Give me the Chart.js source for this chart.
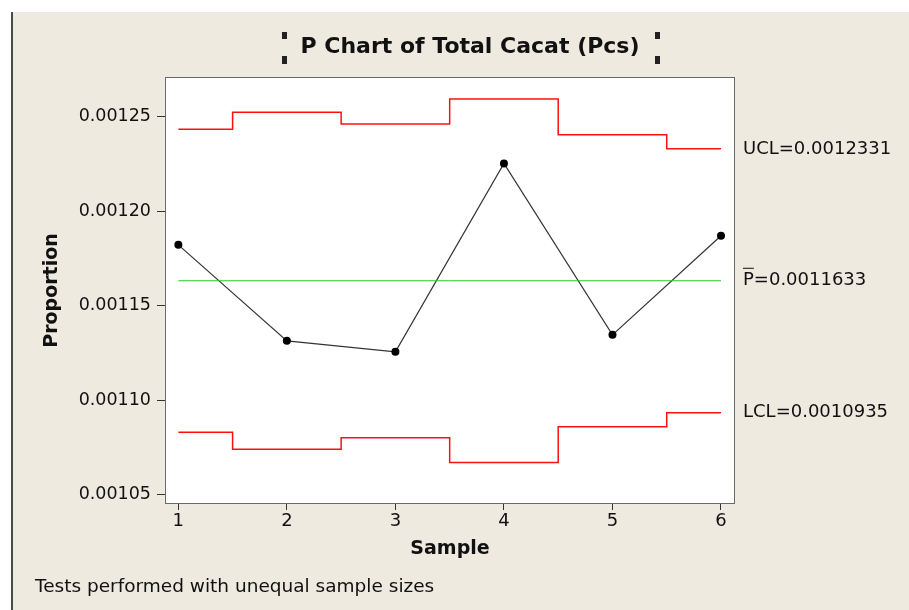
<!DOCTYPE html>
<html>
<head>
<meta charset="utf-8">
<script src="https://cdn.jsdelivr.net/npm/chart.js@4.4.1/dist/chart.umd.min.js"></script>
<style>
html, body { margin: 0; padding: 0; background: #fff; }
</style>
</head>
<body>
<canvas id="pChart" width="909" height="610"></canvas>
<script>
// sample numbers and observed proportions
const samples = [1, 2, 3, 4, 5, 6];
const proportions = [0.0011823, 0.0011315, 0.0011257, 0.0012254, 0.0011347, 0.0011871];
// control limits per sample (unequal sample sizes)
const ucl = [0.0012435, 0.0012525, 0.0012463, 0.0012595, 0.0012405, 0.0012331];
const lcl = [0.0010831, 0.0010741, 0.0010803, 0.0010671, 0.0010861, 0.0010935];
const pBar = 0.0011633;
const yTicks = [0.00105, 0.00110, 0.00115, 0.00120, 0.00125];
const xTicks = [1, 2, 3, 4, 5, 6];

const bg = '#eeeae0';
const font = '"DejaVu Sans", Verdana, sans-serif';

const toPoints = vals => samples.map((s, i) => ({ x: s, y: vals[i] }));

const minitabFrame = {
    id: 'minitabFrame',
    beforeDraw(chart) {
        const ctx = chart.ctx;
        const a = chart.chartArea;
        ctx.save();
        ctx.fillStyle = '#fff';
        ctx.fillRect(0, 0, chart.width, chart.height);
        ctx.fillStyle = bg;
        ctx.fillRect(13, 12, chart.width, chart.height);
        ctx.fillStyle = '#4a4a4a';
        ctx.fillRect(11, 12, 2, chart.height);
        ctx.fillStyle = '#fff';
        ctx.fillRect(a.left, a.top, a.right - a.left, a.bottom - a.top);
        ctx.restore();
    },
    afterDraw(chart) {
        const ctx = chart.ctx;
        const a = chart.chartArea;
        const y = chart.scales.y;
        ctx.save();
        ctx.strokeStyle = '#6a6a6a';
        ctx.lineWidth = 1;
        ctx.strokeRect(a.left + 0.5, a.top + 0.5, a.right - a.left - 1, a.bottom - a.top - 1);

        // title + selection handles
        ctx.fillStyle = '#111';
        ctx.font = 'bold 22px ' + font;
        ctx.textAlign = 'center';
        ctx.textBaseline = 'middle';
        ctx.fillText('P Chart of Total Cacat (Pcs)', 470, 47);
        ctx.fillStyle = '#222';
        [282, 655].forEach(hx => {
            ctx.fillRect(hx, 32, 5, 7);
            ctx.fillRect(hx, 56, 5, 8);
        });

        // limit labels
        ctx.fillStyle = '#111';
        ctx.font = '18px ' + font;
        ctx.textAlign = 'left';
        const lx = a.right + 8;
        ctx.fillText('UCL=' + ucl[ucl.length - 1].toFixed(7), lx, y.getPixelForValue(ucl[ucl.length - 1]));
        const py = y.getPixelForValue(pBar);
        ctx.fillText('P=' + pBar.toFixed(7), lx, py);
        const pw = ctx.measureText('P').width;
        ctx.fillRect(lx, py - 13, pw, 1);
        ctx.fillText('LCL=' + lcl[lcl.length - 1].toFixed(7), lx, y.getPixelForValue(lcl[lcl.length - 1]));

        // footnote
        ctx.font = '18.5px ' + font;
        ctx.fillText('Tests performed with unequal sample sizes', 35, 587);
        ctx.restore();
    }
};

new Chart(document.getElementById('pChart'), {
    type: 'line',
    data: {
        datasets: [{
            label: 'UCL',
            data: toPoints(ucl),
            borderColor: '#ff1010',
            borderWidth: 1.5,
            pointRadius: 0,
            stepped: 'middle'
        }, {
            label: 'LCL',
            data: toPoints(lcl),
            borderColor: '#ff1010',
            borderWidth: 1.5,
            pointRadius: 0,
            stepped: 'middle'
        }, {
            label: 'P bar',
            data: [{ x: samples[0], y: pBar }, { x: samples[samples.length - 1], y: pBar }],
            borderColor: '#22cc22',
            borderWidth: 1,
            pointRadius: 0
        }, {
            label: 'Proportion',
            data: toPoints(proportions),
            borderColor: '#333',
            borderWidth: 1.2,
            pointRadius: 4,
            pointBackgroundColor: '#000',
            pointBorderColor: '#000',
            pointBorderWidth: 0
        }]
    },
    options: {
        responsive: false,
        animation: false,
        layout: { padding: { left: 30, right: 174, top: 77, bottom: 46 } },
        plugins: { legend: { display: false }, tooltip: { enabled: false } },
        scales: {
            x: {
                type: 'linear',
                min: 0.877,
                max: 6.129,
                afterFit: s => { s.height = 60; },
                afterBuildTicks: s => { s.ticks = xTicks.map(v => ({ value: v })); },
                grid: { drawOnChartArea: false, tickLength: 6, color: '#333' },
                border: { display: false },
                ticks: { color: '#111', padding: 1, font: { family: font, size: 18 } },
                title: { display: true, text: 'Sample', color: '#111', padding: { top: 0, bottom: 4 }, font: { family: font, size: 19, weight: 'bold' } }
            },
            y: {
                min: 0.0010452,
                max: 0.0012711,
                afterFit: s => { s.width = 135; },
                afterBuildTicks: s => { s.ticks = yTicks.map(v => ({ value: v })); },
                grid: { drawOnChartArea: false, tickLength: 8, color: '#333' },
                border: { display: false },
                ticks: { color: '#111', padding: 6, font: { family: font, size: 17.5 }, callback: v => v.toFixed(5) },
                title: { display: true, text: 'Proportion', color: '#111', padding: { top: 11 }, font: { family: font, size: 19, weight: 'bold' } }
            }
        }
    },
    plugins: [minitabFrame]
});
</script>
</body>
</html>
